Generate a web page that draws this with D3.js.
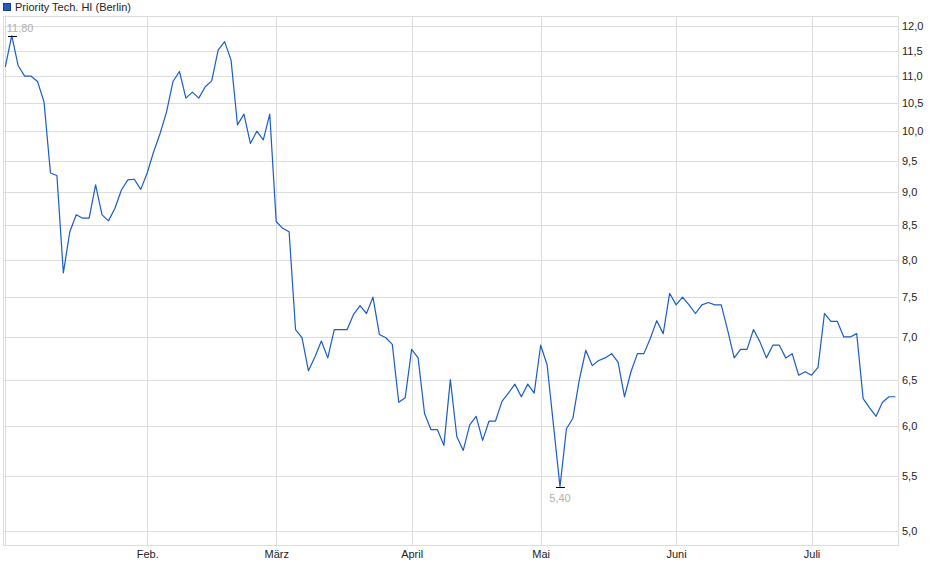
<!DOCTYPE html>
<html>
<head>
<meta charset="utf-8">
<script src="https://cdn.jsdelivr.net/npm/d3@7"></script>
<style>
  body { margin: 0; background: #fff; }
  svg { display: block; font-family: "Liberation Sans", Arial, sans-serif; }
  .grid line { stroke: #dcdcdc; stroke-width: 1; shape-rendering: crispEdges; }
  .axis text { font-size: 11px; fill: #222; }
</style>
</head>
<body>
<div id="chart"></div>
<script>
// closing prices, one per trading day (Jan 2 .. Jul 18)
const prices = [
  11.18, 11.80, 11.20, 11.00, 11.00, 10.90, 10.52, 9.30, 9.26, 7.82,
  8.40, 8.65, 8.60, 8.60, 9.11, 8.65, 8.56, 8.75, 9.03, 9.19,
  9.20, 9.04, 9.30, 9.65, 9.96, 10.34, 10.90, 11.09, 10.59, 10.70,
  10.59, 10.80, 10.91, 11.51, 11.68, 11.31, 10.11, 10.30, 9.79, 10.00,
  9.85, 10.30, 8.55, 8.45, 8.40, 7.09, 6.99, 6.60, 6.76, 6.95,
  6.75, 7.09, 7.09, 7.09, 7.28, 7.39, 7.29, 7.50, 7.03, 6.99,
  6.91, 6.25, 6.30, 6.85, 6.75, 6.13, 5.96, 5.96, 5.80, 6.50,
  5.89, 5.75, 6.01, 6.10, 5.85, 6.05, 6.05, 6.26, 6.35, 6.45,
  6.31, 6.45, 6.35, 6.90, 6.67, 6.00, 5.40, 5.97, 6.08, 6.50,
  6.84, 6.66, 6.72, 6.75, 6.80, 6.70, 6.31, 6.59, 6.80, 6.80,
  6.98, 7.20, 7.04, 7.55, 7.40, 7.50, 7.40, 7.29, 7.40, 7.43,
  7.40, 7.40, 7.08, 6.75, 6.85, 6.85, 7.09, 6.94, 6.75, 6.90,
  6.90, 6.75, 6.80, 6.55, 6.59, 6.55, 6.64, 7.29, 7.19, 7.19,
  7.00, 7.00, 7.04, 6.29, 6.19, 6.10, 6.25, 6.31, 6.31
]
// first trading day of each month (index into prices)
const monthLabels = ['', 'Feb.', 'März', 'April', 'Mai', 'Juni', 'Juli']
const monthStarts = [0, 22, 42, 63, 83, 104, 125]
const yTicks = [5.0, 5.5, 6.0, 6.5, 7.0, 7.5, 8.0, 8.5, 9.0, 9.5, 10.0, 10.5, 11.0, 11.5, 12.0]
const seriesName = 'Priority Tech. HI (Berlin)'

const width = 940, height = 579
const frame = ({left: 3, right: 898, top: 16, bottom: 545})
const lineColor = '#1a5cc8'

const de = d3.formatLocale({decimal: ',', thousands: '.', grouping: [3], currency: ['', ' €']})
const fmt1 = de.format('.1f')
const fmt2 = de.format('.2f')

const svg = d3.select('#chart').append('svg')
  .attr('width', width)
  .attr('height', height)

//scales
const xScale = d3.scaleLinear()
  .domain([0, prices.length - 1])
  .range([frame.left + 2.3, frame.right - 2.6])
const yScale = d3.scaleLog()
  .domain([5, 12])
  .range([531, 26])

//horizontal grid + right axis
const yaxis = svg.append('g')
  .classed('grid axis', true)
  .attr('transform', `translate(${frame.right},0)`)
  .call(d3.axisRight(yScale).tickValues(yTicks).tickFormat(fmt1)
    .tickSize(-(frame.right - frame.left)).tickPadding(4))
  .call(g => g.select('.domain').remove())
  .call(g => g.selectAll('.tick text').attr('x', 4))

//vertical grid + month labels
const xaxis = svg.append('g')
  .classed('grid axis', true)
  .attr('transform', `translate(0,${frame.bottom})`)
  .call(d3.axisBottom(xScale).tickValues(monthStarts)
    .tickFormat((d, i) => monthLabels[i])
    .tickSize(-(frame.bottom - frame.top)).tickPadding(5))
  .call(g => g.select('.domain').remove())

//frame
svg.append('rect')
  .attr('x', frame.left + 0.5)
  .attr('y', frame.top + 0.5)
  .attr('width', frame.right - frame.left)
  .attr('height', frame.bottom - frame.top)
  .attr('fill', 'none')
  .attr('stroke', '#dcdcdc')
  .attr('shape-rendering', 'crispEdges')

//price line
const line = d3.line()
  .x((d, i) => xScale(i))
  .y(d => yScale(d))

svg.append('path')
  .datum(prices)
  .attr('d', line)
  .attr('fill', 'none')
  .attr('stroke', lineColor)
  .attr('stroke-width', 1.2)
  .attr('stroke-linejoin', 'round')

//high / low markers
const hi = d3.maxIndex(prices)
const lo = d3.minIndex(prices)
const marks = svg.append('g')
marks.selectAll('line')
  .data([hi, lo])
  .join('line')
  .attr('x1', i => Math.round(xScale(i)) - 4)
  .attr('x2', i => Math.round(xScale(i)) + 5)
  .attr('y1', i => Math.round(yScale(prices[i])) + 0.5)
  .attr('y2', i => Math.round(yScale(prices[i])) + 0.5)
  .attr('stroke', '#000')
  .attr('stroke-width', 1)

marks.append('text')
  .attr('x', xScale(hi) - 5)
  .attr('y', yScale(prices[hi]) - 4)
  .attr('font-size', 11)
  .attr('fill', '#b4b0aa')
  .text(fmt2(prices[hi]))

marks.append('text')
  .attr('x', xScale(lo))
  .attr('y', yScale(prices[lo]) + 15)
  .attr('text-anchor', 'middle')
  .attr('font-size', 11)
  .attr('fill', '#b4b0aa')
  .text(fmt2(prices[lo]))

//legend
svg.append('rect')
  .attr('x', 3.5)
  .attr('y', 3.5)
  .attr('width', 7)
  .attr('height', 7)
  .attr('fill', '#1f5fc4')
  .attr('stroke', '#1a3f80')
svg.append('text')
  .attr('x', 15)
  .attr('y', 10.5)
  .attr('font-size', 11)
  .attr('fill', '#222')
  .text(seriesName)
</script>
</body>
</html>
